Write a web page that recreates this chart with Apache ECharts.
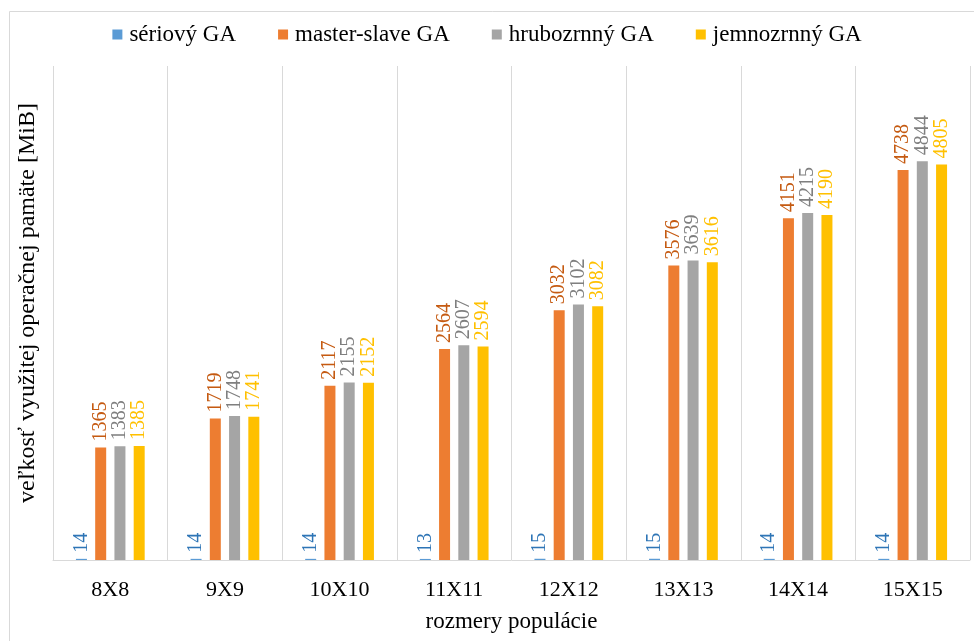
<!DOCTYPE html>
<html>
<head>
<meta charset="utf-8">
<script src="https://cdn.jsdelivr.net/npm/echarts@6/dist/echarts.min.js"></script>
<style>
  html, body { margin: 0; padding: 0; background: #fff; }
  #chart { width: 974px; height: 641px; }
</style>
</head>
<body>
<div id="chart"></div>
<script>
// rozmery populácie
const categories = ['8X8', '9X9', '10X10', '11X11', '12X12', '13X13', '14X14', '15X15']
// využitá pamäť v MiB
const seriovy = [14, 14, 14, 13, 15, 15, 14, 14]
const masterSlave = [1365, 1719, 2117, 2564, 3032, 3576, 4151, 4738]
const hrubozrnny = [1383, 1748, 2155, 2607, 3102, 3639, 4215, 4844]
const jemnozrnny = [1385, 1741, 2152, 2594, 3082, 3616, 4190, 4805]

const font = 'Liberation Serif'

function bar(name, data, color, labelColor) {
  return {
    name: name,
    type: 'bar',
    data: data,
    barWidth: 11,
    barGap: '75%',
    itemStyle: { color: color },
    label: {
      show: true,
      position: 'top',
      rotate: 90,
      align: 'left',
      verticalAlign: 'middle',
      distance: 6,
      color: labelColor,
      fontFamily: font,
      fontSize: 20
    }
  }
}

let myChart = echarts.init(document.getElementById('chart'))
myChart.setOption({
  animation: false,
  textStyle: { fontFamily: font },
  // rámik okolo grafu
  graphic: [{
    type: 'rect',
    left: 7,
    top: 9,
    shape: { width: 980, height: 640 },
    style: { fill: 'none', stroke: '#d9d9d9', lineWidth: 1 },
    silent: true
  }],
  legend: {
    top: 18,
    left: 'center',
    itemWidth: 10,
    itemHeight: 10,
    itemGap: 42,
    icon: 'rect',
    textStyle: { fontFamily: font, fontSize: 23, color: '#000', padding: [0, 0, 0, 2] },
    data: ['sériový GA', 'master-slave GA', 'hrubozrnný GA', 'jemnozrnný GA']
  },
  grid: { left: 53, right: 4, top: 66, bottom: 81 },
  xAxis: {
    type: 'category',
    data: categories,
    name: 'rozmery populácie',
    nameLocation: 'middle',
    nameGap: 50,
    nameTextStyle: { fontFamily: font, fontSize: 23, color: '#000' },
    axisLine: { lineStyle: { color: '#d9d9d9' } },
    axisTick: { show: false },
    axisLabel: { fontFamily: font, fontSize: 22, color: '#000', margin: 19 },
    splitLine: { show: true, lineStyle: { color: '#d9d9d9' } }
  },
  yAxis: {
    type: 'value',
    min: 0,
    max: 6000,
    name: 'veľkosť využitej operačnej pamäte [MiB]',
    nameLocation: 'middle',
    nameGap: 13,
    nameTextStyle: { fontFamily: font, fontSize: 24, color: '#000', padding: [0, 0, 0, 20] },
    axisLine: { show: false },
    axisTick: { show: false },
    axisLabel: { show: false },
    splitLine: { show: false }
  },
  series: [
    bar('sériový GA', seriovy, '#5B9BD5', '#2E75B6'),
    bar('master-slave GA', masterSlave, '#ED7D31', '#C55A11'),
    bar('hrubozrnný GA', hrubozrnny, '#A5A5A5', '#7F7F7F'),
    bar('jemnozrnný GA', jemnozrnny, '#FFC000', '#FFC000')
  ]
})
window.onresize = () => {
  myChart.resize()
}
</script>
</body>
</html>
